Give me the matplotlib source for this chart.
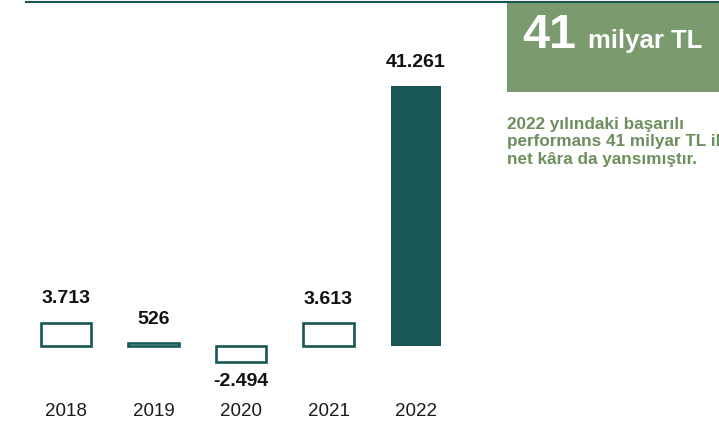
import numpy as np
import matplotlib.pyplot as plt
from matplotlib.patches import Rectangle

years = ['2018', '2019', '2020', '2021', '2022']
profit = [3713, 526, -2494, 3613, 41261]
labels = ['3.713', '526', '-2.494', '3.613', '41.261']
filled = [False, False, False, False, True]

headline_num = '41'
headline_unit = 'milyar TL'
caption = ['2022 yılındaki başarılı',
           'performans 41 milyar TL ile',
           'net kâra da yansımıştır.']

teal = '#175755'
box_green = '#7b9a6e'
text_green = '#6c8f5d'

plt.rcParams['font.family'] = ['Liberation Sans', 'DejaVu Sans']

W, H = 719, 425
fig = plt.figure(figsize=(W / 100, H / 100), dpi=100)
ax = fig.add_axes([0, 0, 1, 1])
ax.set_axis_off()

# scale: 41261 -> 260 px, baseline 346 px from top
upp = 41261 / 260.
ax.set_ylim(-(H - 346) * upp, 346 * upp)
step = 87.5
ax.set_xlim(-66 / step, (W - 66) / step)

x = np.arange(len(years))
for i, v in enumerate(profit):
    if filled[i]:
        ax.bar(x[i], v, width=0.58, color=teal, edgecolor=teal, linewidth=0)
    else:
        ax.bar(x[i], v, width=0.58, facecolor='white', edgecolor=teal, linewidth=1.9)

for i, v in enumerate(profit):
    if v >= 0:
        ax.annotate(labels[i], (x[i], v), xytext=(0, 17), textcoords='offset points',
                    ha='center', va='center', fontsize=14, fontweight='bold', color='#111111')
    else:
        ax.annotate(labels[i], (x[i], v), xytext=(0, -14), textcoords='offset points',
                    ha='center', va='center', fontsize=14, fontweight='bold', color='#111111')

for i, y in enumerate(years):
    ax.text(x[i], (H - 411) / H, y, transform=ax.get_xaxis_transform(),
            ha='center', va='center', fontsize=13.5, color='#1a1a1a')

# top rule
fig.add_artist(plt.Line2D([26 / W, 1], [1 - 1.5 / H, 1 - 1.5 / H], color=teal, lw=1.5))

# headline box
fig.add_artist(Rectangle((507 / W, 1 - 92 / H), (W - 507) / W, 89 / H,
                         transform=fig.transFigure, color=box_green, lw=0))
fig.text(522 / W, 1 - 48 / H, headline_num, color='white', fontsize=35,
         fontweight='bold', va='baseline', ha='left')
fig.text(588 / W, 1 - 48 / H, headline_unit, color='white', fontsize=18.5,
         fontweight='bold', va='baseline', ha='left')

for j, line in enumerate(caption):
    fig.text(507 / W, 1 - (129 + 17.3 * j) / H, line, color=text_green,
             fontsize=12.3, fontweight='bold', va='baseline', ha='left')

fig.savefig('out.png', dpi=100)
